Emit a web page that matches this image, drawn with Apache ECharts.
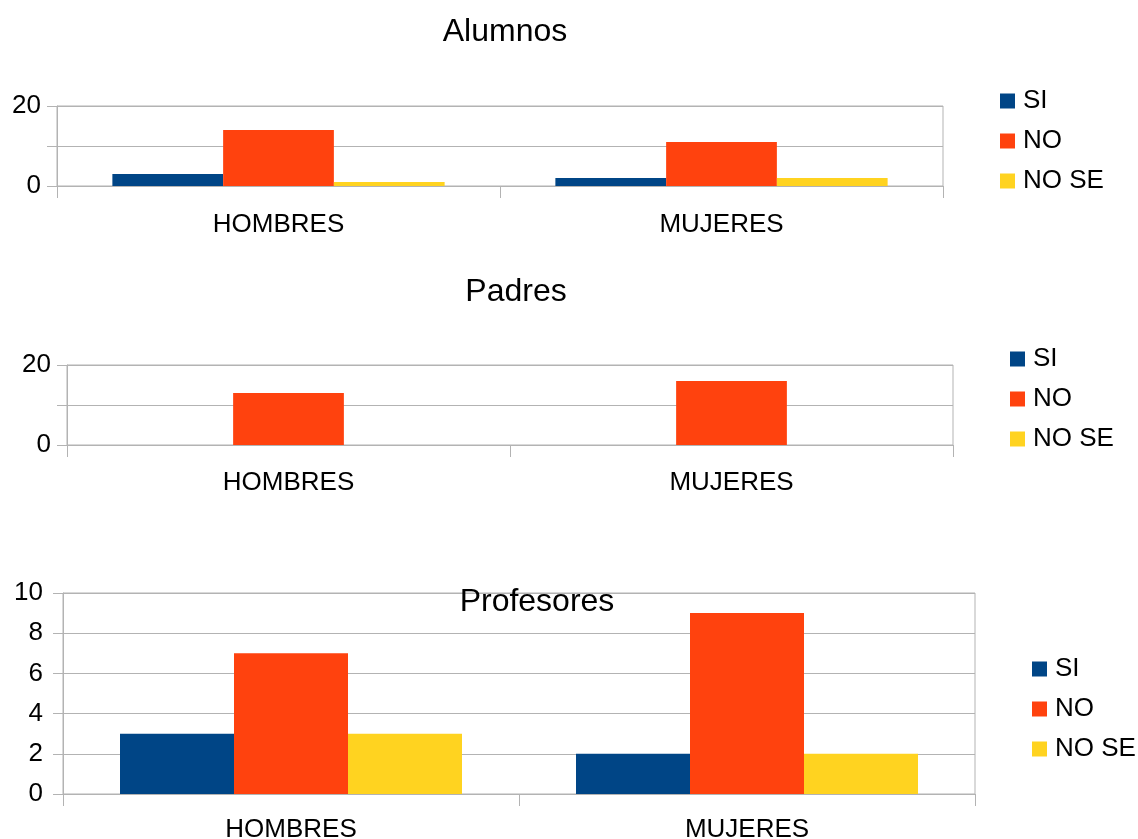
<!DOCTYPE html>
<html>
<head>
<meta charset="utf-8">
<style>
  html, body { margin: 0; padding: 0; background: #fff; }
  #chart { width: 1138px; height: 839px; }
</style>
<script src="https://cdn.jsdelivr.net/npm/echarts@6/dist/echarts.min.js"></script>
</head>
<body>
<div id="chart"></div>
<script>
// datos de la encuesta
const categories = ['HOMBRES', 'MUJERES']
const seriesNames = ['SI', 'NO', 'NO SE']
const alumnosSi = [3, 2]
const alumnosNo = [14, 11]
const alumnosNoSe = [1, 2]
const padresSi = [0, 0]
const padresNo = [13, 16]
const padresNoSe = [0, 0]
const profesoresSi = [3, 2]
const profesoresNo = [7, 9]
const profesoresNoSe = [3, 2]

const colors = ['#004586', '#ff420e', '#ffd320']
const font = '"Liberation Sans", Arial, sans-serif'
const lineColor = '#b3b3b3'

const chart = echarts.init(document.getElementById('chart'))

function title(text, left, top) {
  return {
    text: text, left: left, top: top, textAlign: 'center',
    textStyle: { fontFamily: font, fontSize: 32, fontWeight: 'normal', color: '#000' }
  }
}

function legend(left, top) {
  return {
    data: seriesNames, orient: 'vertical', left: left, top: top,
    icon: 'rect', itemWidth: 15, itemHeight: 15, itemGap: 14,
    textStyle: { fontFamily: font, fontSize: 26, color: '#000', padding: [0, 0, 0, 3] }
  }
}

function grid(left, top, right, height) {
  return {
    left: left, top: top, right: right, height: height,
    outerBoundsMode: 'none', containLabel: false,
    show: true, borderColor: lineColor, borderWidth: 1
  }
}

function xAxis(idx, margin) {
  return {
    type: 'category', gridIndex: idx, data: categories,
    axisLine: { show: true, lineStyle: { color: lineColor } },
    axisTick: { show: true, length: 12, lineStyle: { color: lineColor } },
    axisLabel: { color: '#000', fontFamily: font, fontSize: 26, margin: margin }
  }
}

function yAxis(idx, max, interval, labelStep, margin) {
  return {
    type: 'value', gridIndex: idx, min: 0, max: max, interval: interval,
    axisLine: { show: true, lineStyle: { color: lineColor } },
    axisTick: { show: true, length: 10, lineStyle: { color: lineColor } },
    splitLine: { lineStyle: { color: lineColor } },
    axisLabel: {
      color: '#000', fontFamily: font, fontSize: 26, margin: margin,
      formatter: v => (v % labelStep === 0 ? String(v) : '')
    }
  }
}

function bars(idx, values) {
  return values.map((d, i) => ({
    name: seriesNames[i], type: 'bar', xAxisIndex: idx, yAxisIndex: idx,
    data: d, barGap: 0, barCategoryGap: '25%', itemStyle: { color: colors[i] }
  }))
}

chart.setOption({
  animation: false,
  color: colors,
  title: [
    title('Alumnos', 500, 11),
    title('Padres', 511, 271),
    title('Profesores', 532, 581)
  ],
  legend: [
    legend(995, 83),
    legend(1005, 341),
    legend(1027, 651)
  ],
  grid: [
    grid(57, 106, 195, 80),
    grid(67, 365, 185, 80),
    grid(63, 593, 163, 201)
  ],
  xAxis: [xAxis(0, 26), xAxis(1, 25), xAxis(2, 23)],
  yAxis: [yAxis(0, 20, 10, 20, 16), yAxis(1, 20, 10, 20, 16), yAxis(2, 10, 2, 2, 20)],
  series: [].concat(
    bars(0, [alumnosSi, alumnosNo, alumnosNoSe]),
    bars(1, [padresSi, padresNo, padresNoSe]),
    bars(2, [profesoresSi, profesoresNo, profesoresNoSe])
  )
})
</script>
</body>
</html>
